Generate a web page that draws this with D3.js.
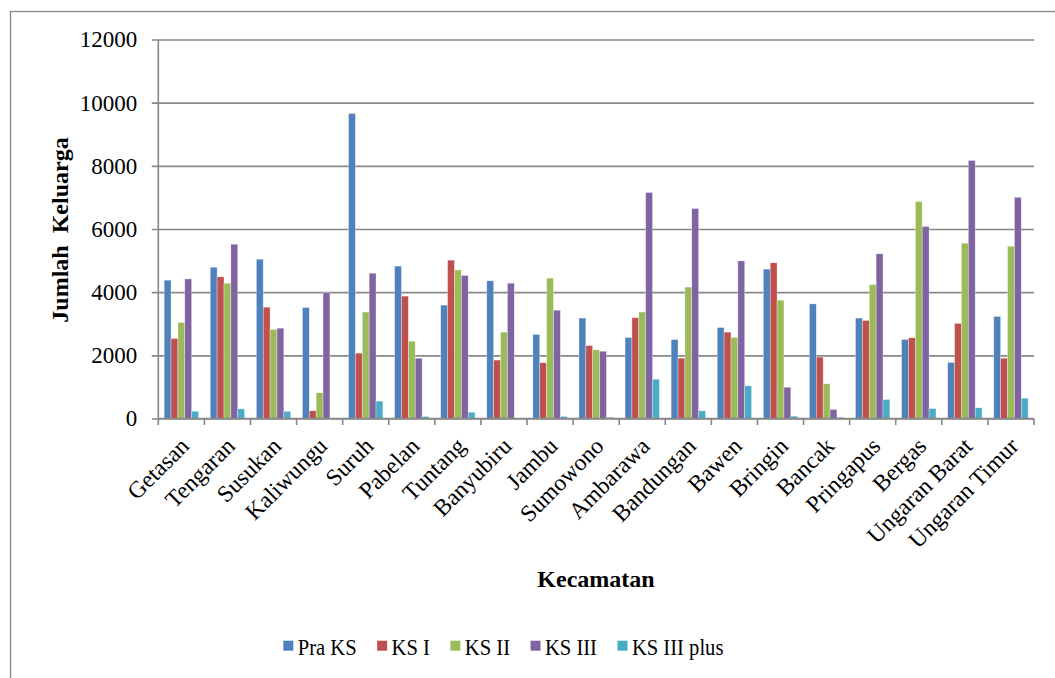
<!DOCTYPE html>
<html>
<head>
<meta charset="utf-8">
<script src="https://cdn.jsdelivr.net/npm/d3@7"></script>
<style>
  html, body { margin: 0; padding: 0; background: #fff; }
  svg, svg text { font-family: "Liberation Serif", "Times New Roman", serif; }
</style>
</head>
<body>
<svg id="chart" width="1055" height="678"></svg>
<script>
// Jumlah keluarga per tahapan keluarga sejahtera, per kecamatan
const categories = ["Getasan", "Tengaran", "Susukan", "Kaliwungu", "Suruh", "Pabelan", "Tuntang",
  "Banyubiru", "Jambu", "Sumowono", "Ambarawa", "Bandungan", "Bawen", "Bringin", "Bancak",
  "Pringapus", "Bergas", "Ungaran Barat", "Ungaran Timur"];
const seriesNames = ["Pra KS", "KS I", "KS II", "KS III", "KS III plus"];
const praKS     = [4380, 4790, 5045, 3515, 9655, 4825, 3590, 4360, 2660, 3180, 2565, 2500, 2880, 4730, 3630, 3180, 2500, 1775, 3230];
const ksI       = [2535, 4485, 3525, 245, 2070, 3875, 5015, 1850, 1765, 2310, 3190, 1910, 2735, 4930, 1945, 3105, 2555, 3010, 1910];
const ksII      = [3040, 4285, 2820, 815, 3370, 2450, 4705, 2735, 4445, 2175, 3370, 4160, 2565, 3745, 1100, 4240, 6870, 5550, 5455];
const ksIII     = [4420, 5520, 2860, 3980, 4600, 1910, 4530, 4285, 3430, 2130, 7155, 6650, 4990, 990, 285, 5215, 6080, 8170, 7005];
const ksIIIplus = [230, 305, 230, 0, 550, 65, 200, 0, 65, 40, 1245, 245, 1035, 75, 40, 600, 315, 340, 645];
const yTicks = [0, 2000, 4000, 6000, 8000, 10000, 12000];
const colors = ["#4F81BD", "#C0504D", "#9BBB59", "#8064A2", "#4BACC6"];

const seriesValues = [praKS, ksI, ksII, ksIII, ksIIIplus];
const rows = categories.map((c, i) => ({ cat: c, vals: seriesNames.map((s, j) => ({ s, v: seriesValues[j][i] })) }));

const FONT = "'Liberation Serif', 'Times New Roman', serif";
const svg = d3.select("#chart");
const gridColor = "#878787";

// chart frame
svg.append("rect")
  .attr("x", 10.5).attr("y", 11.5).attr("width", 1060).attr("height", 700)
  .attr("fill", "none").attr("stroke", gridColor).attr("stroke-width", 1.3);

const plot = { left: 158.3, right: 1034, top: 39.5, bottom: 418.5 };

const x = d3.scaleBand().domain(categories).range([plot.left, plot.right]).paddingInner(0).paddingOuter(0);
const innerPad = x.bandwidth() * 0.127;
const x1 = d3.scaleBand().domain(seriesNames).range([innerPad, x.bandwidth() - innerPad]).padding(0);
const y = d3.scaleLinear().domain([0, 12000]).range([plot.bottom, plot.top]);
const color = d3.scaleOrdinal().domain(seriesNames).range(colors);

// horizontal gridlines + y axis
const yAxis = d3.axisLeft(y).tickValues(yTicks).tickSize(plot.right - plot.left).tickSizeOuter(0).tickPadding(14).tickFormat(d3.format("d"));
const yg = svg.append("g").attr("transform", `translate(${plot.right},0)`).call(yAxis)
  .attr("font-family", null).attr("font-size", null);
yg.select(".domain").remove();
yg.selectAll(".tick line").attr("stroke", gridColor).attr("stroke-width", 1.6).attr("x1", -(plot.right - plot.left) - 6.5).attr("x2", 0);
yg.selectAll(".tick text")
  .attr("x", -(plot.right - plot.left) - 21)
  .attr("fill", "#000")
  .style("font-family", FONT)
  .style("font-size", "23px");

// vertical axis line
svg.append("line")
  .attr("x1", plot.left).attr("x2", plot.left).attr("y1", plot.top).attr("y2", plot.bottom)
  .attr("stroke", gridColor).attr("stroke-width", 1.6);

// bars
const groups = svg.append("g").selectAll("g").data(rows).join("g")
  .attr("transform", d => `translate(${x(d.cat)},0)`);
groups.selectAll("rect").data(d => d.vals).join("rect")
  .attr("x", d => x1(d.s))
  .attr("y", d => y(d.v))
  .attr("width", x1.bandwidth())
  .attr("height", d => y(0) - y(d.v))
  .attr("fill", d => color(d.s))
  .attr("stroke", "rgba(255,255,255,0.55)")
  .attr("stroke-width", 0.6);

// x axis with category boundary ticks
const xg = svg.append("g").attr("transform", `translate(0,${plot.bottom})`);
xg.append("line").attr("x1", plot.left).attr("x2", plot.right).attr("y1", 0).attr("y2", 0)
  .attr("stroke", gridColor).attr("stroke-width", 1.6);
const boundaries = categories.map(c => x(c)).concat([plot.right]);
xg.selectAll("line.tk").data(boundaries).join("line").attr("class", "tk")
  .attr("x1", d => d).attr("x2", d => d).attr("y1", 0).attr("y2", 6.5)
  .attr("stroke", gridColor).attr("stroke-width", 1.6);
xg.selectAll("text").data(categories).join("text")
  .attr("transform", d => `translate(${x(d) + x.bandwidth() / 2 + 9},${29}) rotate(-45)`)
  .attr("text-anchor", "end")
  .attr("fill", "#000")
  .style("font-family", FONT)
  .style("font-size", "23.5px")
  .text(d => d);

// axis titles
svg.append("text")
  .attr("transform", "translate(68,230) rotate(-90)")
  .attr("text-anchor", "middle")
  .style("font-family", FONT)
  .style("font-size", "24px").style("font-weight", "bold")
  .style("white-space", "pre")
  .text("Jumlah  Keluarga");

svg.append("text")
  .attr("x", 596).attr("y", 587)
  .attr("text-anchor", "middle")
  .style("font-family", FONT)
  .style("font-size", "24px").style("font-weight", "bold")
  .text("Kecamatan");

// legend (condensed serif labels)
const legend = svg.append("g");
const squeeze = 0.877;
let lx = 283.3;
seriesNames.forEach(s => {
  legend.append("rect").attr("x", lx).attr("y", 640.7).attr("width", 10).attr("height", 10).attr("fill", color(s));
  const t = legend.append("text")
    .attr("transform", `translate(${lx + 14.4},655) scale(${squeeze},1)`)
    .style("font-family", FONT).style("font-size", "23.5px")
    .attr("fill", "#000").text(s);
  lx += 14.4 + t.node().getComputedTextLength() * squeeze + 20.5;
});
</script>
</body>
</html>
